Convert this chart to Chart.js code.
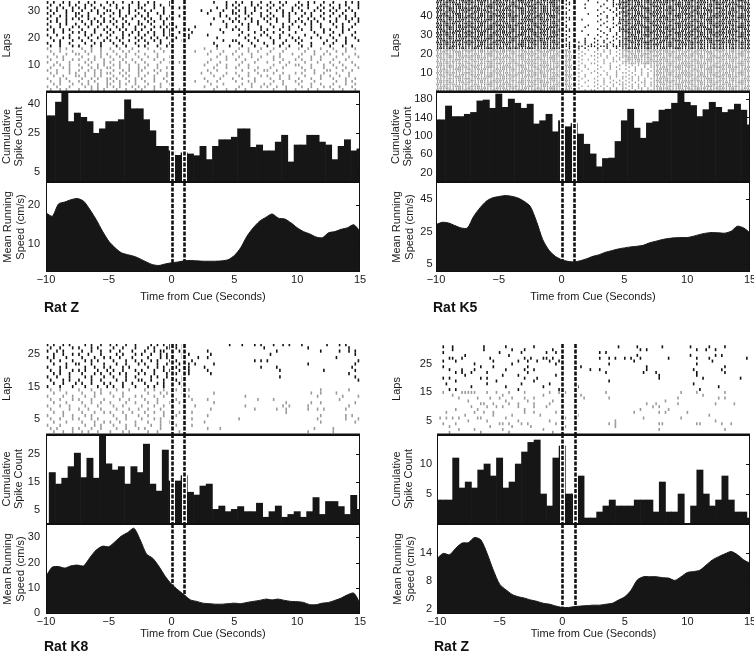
<!DOCTYPE html>
<html>
<head>
<meta charset="utf-8">
<script src="https://cdn.jsdelivr.net/npm/chart.js@4.4.1/dist/chart.umd.min.js"></script>
<style>
  html, body { margin: 0; padding: 0; background: #fff; }
  #fig { position: relative; width: 754px; height: 655px; overflow: hidden; background: #fff; }
  #fig canvas { position: absolute; }
  .rat { position: absolute; font: bold 14px 'Liberation Sans', Arial, sans-serif; line-height: 15px; color: #111; }
</style>
</head>
<body>
<div id="fig"></div>
<script>
// ============================================================
// Spike rasters, cumulative spike counts and running speed
// around the cue, for four rats
// ============================================================

Chart.defaults.font.family = "'Liberation Sans', Arial, sans-serif";
Chart.defaults.font.size = 11;
Chart.defaults.color = '#1a1a1a';

// ---- shared axis data ---------------------------------------------------
const sampleTimes = [-10, -9.5, -9, -8.5, -8, -7.5, -7, -6.5, -6, -5.5, -5, -4.5, -4, -3.5, -3, -2.5, -2, -1.5, -1, -0.5,
    0, 0.5, 1, 1.5, 2, 2.5, 3, 3.5, 4, 4.5, 5, 5.5, 6, 6.5, 7, 7.5, 8, 8.5, 9, 9.5,
    10, 10.5, 11, 11.5, 12, 12.5, 13, 13.5, 14, 14.5, 15];
const timeTicks = [-10, -5, 0, 5, 10, 15];
const cueTimes = [0, 1];

// ---- cumulative spike count per 0.5 s bin (bin centres = sampleTimes) ----
const zTopCounts = [34, 34, 41, 45.6, 31, 35.4, 33.2, 31, 25, 27.3, 31, 31, 32, 42.2, 37.6, 37.6, 32, 26.3, 18.3, 18.3,
    16, 13.7, 15, 14.4, 13.5, 18.3, 11.5, 18.3, 21.7, 21.7, 23, 27.3, 27.3, 17.8, 19, 16, 16, 20.5, 24, 10.3,
    19, 19, 24, 24, 20.5, 19, 11.5, 18.3, 21.7, 16, 17];
const k5Counts = [135, 135, 165, 142, 142, 147, 151, 176, 178, 160, 191, 162, 180, 171, 160, 169, 126, 133, 147, 109,
    133, 120, 127, 104, 82, 61, 33, 51, 52, 88, 133, 158, 117, 95, 128, 131, 156, 158, 171, 196,
    173, 166, 142, 157, 173, 162, 151, 157, 169, 156, 124];
const k8Counts = [0, 18.3, 14.2, 16.3, 20.4, 25.2, 16.5, 23.4, 16.3, 31.3, 21.4, 19.2, 20.4, 14.2, 20.4, 18.3, 28.4, 14.2, 11.7, 26.3,
    15.3, 15.3, 17.2, 11.3, 10.3, 13.5, 14.2, 5.2, 6.4, 4.4, 5.2, 6.2, 4.4, 4.4, 7.4, 2.4, 4.4, 6.4, 2.4, 3.4,
    4.4, 2.4, 4.4, 9.4, 3.4, 8, 8, 6.2, 3.4, 10.2, 5.2];
const zBotCounts = [4, 4, 4, 11, 6, 7, 6, 9, 10, 8, 11, 6, 7, 10, 12, 13.6, 14, 5, 3, 11,
    13, 5, 5, 8, 1, 1, 2, 3, 4, 3, 3, 3, 4, 4, 4, 2, 7, 2, 2, 5,
    0, 3, 9, 5, 3, 4, 8, 4, 2, 2, 1];

// ---- mean running speed (cm/s) at sampleTimes ---------------------------
const zTopSpeed = [18, 17.1, 20.3, 20.8, 21.4, 21.7, 21, 18.8, 16.2, 13.2, 10.6, 8.9, 7.6, 7.1, 6.7, 6, 5.2, 4.5, 4.3, 4.7,
    5, 5.2, 5.5, 5.6, 5.5, 5.4, 5.4, 5.4, 5.5, 5.8, 6.9, 8.9, 11.9, 14.1, 15.8, 16.8, 17.7, 16.6, 16.4, 15.4,
    14.1, 13.1, 12.5, 11.7, 11.5, 12.8, 13.1, 13.7, 14.1, 14.9, 13.2];
const k5Speed = [29.3, 30.7, 30.3, 28.7, 27.2, 27.2, 34.4, 39.6, 43.7, 45.8, 46.6, 47.2, 46.8, 45.8, 43.7, 40.6, 31.3, 20, 13.4, 9.7,
    7.6, 6.6, 6.2, 7, 8.2, 9.7, 10.7, 12.2, 13.2, 14.2, 14.9, 15.5, 15.9, 16.5, 18, 19, 20, 20.7, 21.1, 21.3,
    21.3, 22.1, 23.2, 24, 24.4, 24.2, 24, 25.2, 28.3, 27.2, 24.2];
const k8Speed = [14.5, 18.2, 18.4, 17.8, 18.7, 19, 18.7, 22, 25, 26.5, 26.3, 28.3, 30.5, 31.9, 33.6, 29, 23.4, 21.7, 18.4, 14.5,
    11.4, 9.2, 7.2, 5.2, 4.6, 3.9, 3.7, 3.5, 3.5, 3.7, 3.9, 3.7, 4.2, 4.6, 5, 5.5, 5.2, 5.5, 5, 4.6,
    4.5, 4.2, 3.3, 3.3, 3.9, 4.2, 5, 5.9, 7.2, 7.9, 3.9];
const zBotSpeed = [12.8, 13.9, 13.6, 15, 16.1, 16.2, 17.3, 16.8, 13.9, 10.3, 7.3, 6.1, 5.1, 4.6, 4.3, 3.9, 3.6, 3.2, 3, 2.6,
    2.3, 2.3, 2.5, 2.6, 2.7, 2.8, 2.8, 3, 3.2, 3.9, 4.6, 6, 8.2, 8.9, 8.9, 8.9, 8.7, 8.6, 8.1, 8.9,
    9.8, 10, 10.3, 11.4, 12.5, 13.2, 13.8, 14.3, 13.6, 12.5, 11.8];

// ---- spike rasters ------------------------------------------------------
// one row per lap, highest lap first; each character is a 0.25 s bin
// from -10 s to 15 s ('.' none, '|' one spike, digit = number of spikes)
const zTopRaster = [
    "|.|..|.|.. |..|.|...| .|..|..|.| ..|.|....| .......... ...|...|.. |.|..|..|. .|..|.|... |..|.|..|. .|...|.|.|",
    ".|..|..|.| ..|.|..|.. |.|...|..| .|..|.|..| |......... .......|.| .|...|.|.. |.|..|...| .|.|...|.. |..|.|...|",
    "|..|.|..|. |.|..|..|. ..|.|.|..| |...|..|.. ..|....... ....|..|.. |..|..|.|. .|..|...|. |..|..|.|. .|.|..|..|",
    ".|.|..|.|. .|..|.|..| |..|..|.|. .|.|...|.. .........| ..|...|..| .|.|..|... |..|.|..|. .|...|.|.. |.|..|.|..",
    "|.|...|..| |..|..|.|. .|.|..|..| ..|..|.|.. .......... .|...|...| |..|.|..|. .|...|.|.| ..|.|...|. .|..|...|.",
    ".|..|.|..| .|.|...|.. |..|.|..|. |.|...|..| ..|....... .....|.|.. .|..|...|. |.|..|.|.. .|..|..|.. |..|.|..|.",
    "|..|..|.|. |..|.|..|. .|..|..|.. .|.|..|.|. .......... ...|....|. |..|.|...| .|.|...|.. |..|.|..|. ..|..|.|.|",
    ".|.|..|... .|..|.|.|. |.|..|...| ..|.|..|.. |......... ......|..| .|...|.|.. |..|...|.| .|..|.|... |.|...|..|",
    "|...|.|..| ..|.|..|.. .|..|.|..| |..|...|.| .......... ..|....|.. ..|.|..|.. .|...|..|. ..|.|..|.. .|..|...|.",
    ".|..|...|. |..|..|..| ..|.|...|. .|..|.|.|. .|.....|.. .......|.. |...|...|. ..|..|.|.. |...|..|.. ..|.|..|..",
    "|.|..|.|.. .|...|..|. |..|.|..|. |..|...|.| |....|.... .....|...| .|..|...|. |...|..|.. .|..|...|. |...|.|...",
    "..|..|..|. |.|..|...| .|..|..|.| ..|.|..|.| ..|...|... ......|... ..|...|..| ..|..|...| .....|..|. .|..|...|.",
    "|..|...|.. ..|.|..|.. |...|.|..| .|..|..|.| |....|.... .|........ .|..|...|. |...|..|.. ..|...|... |..|...|..",
    ".|...|.|.. |..|..|..| ..|.|...|. |..|.|..|. .|...|.... ....|..... ...|..|... .|..|...|. |...|..|.. .|...|..|.",
    "..|.|...|. .|..|...|. |..|..|..| .|..|.|... ...|...... ......|..| |...|..|.. ..|...|..| .|.......| ..|..|...|",
    "|...|..|.. ..|..|.|.. .|..|...|. ..|...|..| |......... ...|...... .|...|...| ..|..|.... |...|...|. .|...|....",
    ".|..|...|. |...|..|.. ..|..|...| .|...|..|. .......... ....|...|. ..|...|... |...|..|.. .|..|..... |...|..|..",
    "|...|.|... .|..|..|.. |..|...|.. ..|...|... .......... |...|..... .|..|...|. ..|...|... |..|...|.. .|...|..|.",
    ".|..|...|. ..|.|..|.. .|..|.|..| ....|..|.. .......|.. ..|...|... |...|..|.. .|...|.... ..|..|...| ..|..|....",
    "..|...|..| |..|...|.| ..|..|..|. .|...|.... |......... .|...|...| ..|..|.... |...|...|. .|...|..|. |...|...|.",
    "|..|.|.... .|...|.|.. |..|.|...| ..|..|...| ...|...... ....|..|.. .|...|..|. ..|.|..... |...|..|.. ..|...|..|",
    ".|...|..|. |..|.|..|. .|..|..|.. |...|..|.. .......... ..|....|.. |..|...|.. ..|..|...| .|..|..|.. .|...|....",
    "|..|...|.. ..|.|...|. |..|.|..|. .|....|..| ..|....... .|...|.... ..|...|... |...|..|.. ..|...|... |..|...|..",
    "..|.|..|.. |..|..|.|. .|.|..|..| ..|..|.... .......... |...|..|.. .|..|..... ..|...|..| |...|...|. .|..|...|.",
    ".|...|.|.. .|..|.|..| |..|..|..| .|...|..|. ...|...... ...|...|.. |...|..|.. .|...|.... .|..|...|. ..|..|...|",
    "|..|...|.. |..|.|.|.. .|..|.|..| |...|.|... .......... .|..|..... ..|...|..| |..|...... ..|..|...| |...|..|..",
    ".|.|...|.| ..|..|.|.| |..|.|...| ..|..|..|. |........| ..|....|.. |...|..|.. ..|..|...| .|...|..|. ..|...|...",
    "..|..|...| |.|..|.|.. .|..|.|..| .|..|...|. .......... ...|..|... .|..|...|. |...|..|.. ..|....|.. |..|..|...",
    "|...|.|... .|..|.|..| |.|..|..|. |...|..|.. ...|...... |....|...| ..|...|... .|..|..|.. |...|..|.. .|...|..|.",
    ".|..|..|.. |..|.|...| .|.|..|.|. .|..|...|. .......|.. .|..|..... |...|.|... ..|..|...| .|...|.... ..|..|.|..",
    "..|.|...|. .|.|..|..| |..|.|..|. ..|...|..| |......... ..|...|... ..|..|...| .|...|.... |...|..|.. .|...|..|.",
    "|..|...|.. ..|.|.|..| .|.|...|.| .|..|.|... .......... |...|..... .|...|..|. |..|..|... .|..|...|. |..|...|..",
    ".|..|.|... |...|.|.|. ..|..|..|. |...|...|. ..|....... ...|...|.. |..|...... ..|...|..| ...|..|... .|..|...|."
];
const k5Raster = [
    "1211211121 2112121112 1121112211 2111211212 11.1....1. ....1.1.11 1212111211 2112121112 1211211121 1121112211",
    "2112121112 1211211121 2111211212 1121112211 1.1.1..... .1....1.12 2111211212 1212111211 2112121112 1211211121",
    "1121112211 2111211212 1211211121 1212111211 .11....1.. ...1..1121 1211211121 1121112211 2111211212 2112121112",
    "1212111211 1121112211 2112121112 2111211212 1..1...... ..1...1.11 2112121112 2111211212 1212111211 1121112211",
    "2111211212 1212111211 1121112211 1211211121 11.....1.. ....1..112 1121112211 1211211121 2112121112 2111211212",
    "1211211121 2112121112 1212111211 2111211212 1.1....... .1...1.1.1 1212111211 2112121112 1121112211 1211211121",
    "2112121112 1121112211 2111211212 1211211121 .1.1...... ...1..1.12 2111211212 1211211121 1212111211 2112121112",
    "1121112211 1211211121 1212111211 2112121112 11......1. ..1....111 1211211121 2111211212 2112121112 1212111211",
    "1212111211 2111211212 2112121112 1121112211 1..1...... .1..1..1.1 2112121112 1121112211 1211211121 2111211212",
    "2111211212 1212111211 1211211121 1212111211 .11....... ....1.1.11 1121112211 1212111211 2111211212 1121112211",
    "1211211121 1121112211 2111211212 2112121112 1.1...1... ..1...1.12 1212111211 2112121112 1121112211 1211211121",
    "1121112211 2112121112 1211211121 2111211212 11........ .1..1...11 2111211212 1211211121 1212111211 2112121112",
    "2112121112 1211211121 1121112211 1212111211 1..1...... ...1..1.21 1211211121 1121112211 2111211212 1212111211",
    "1212111211 2111211212 2112121112 1211211121 .1.1....1. ..1....1.1 2112121112 2111211212 1211211121 2111211212",
    "2111211212 1212111211 1212111211 1121112211 11.....1.. ....1.1.11 1121112211 1212111211 2112121112 1121112211",
    "1211211121 1121112211 2111211212 2112121112 1.1....... .1...1..12 1212111211 2112121112 1121112211 1211211121",
    "1121112211 2112121112 1211211121 2111211212 .11...1... ..1..1..11 2111211212 1211211121 1212111211 2112121112",
    "2112121112 1211211121 1212111211 1212111211 1..1...... ...1...1.1 1211211121 1121112211 2111211212 1212111211",
    "1212111211 2111211212 1121112211 1211211121 11......1. .1..1..1.1 1121112211 2111211212 1211211121 2111211212",
    "2111211212 1212111211 2112121112 1121112211 1.1.1..... ..1...1.11 1212111211 1212111211 2112121112 1121112211",
    "1211211121 1121112211 1211211121 2112121112 .1.1...1.. 1...1..1.1 2112121112 2112121112 1121112211 1211211121",
    "1121112211 2112121112 2111211212 1212111211 11..1..1.. .1.1..1.11 1211211121 1121112211 2111211212 2112121112",
    "2112121112 1211211121 1212111211 2111211212 1.1..1.1.. 1..1.1..11 1121112211 1211211121 1212111211 1212111211",
    "1212111211 2111211212 1121112211 1211211121 .11.1..1.1 .1..1.1.11 2111211212 2111211212 1211211121 2111211212",
    "1111121111 1112111111 1111111211 1111111111 1111.11.11 1.111.1111 1111111111 1111211111 1111111111 1111111111",
    "1211211121 1121112211 2112121112 2111211212 1.1..1.1.. .1..1..1.1 1212111211 1121112211 1211211121 2111211212",
    "2112121112 1211211121 1212111211 1121112211 1211.1..1. .1.1.1..11 2111211212 1212111211 2112121112 1211211121",
    "1121112211 2111211212 1211211121 2112121112 1121..1... 1..1.1.1.1 1211211121 2112121112 1121112211 2111211212",
    "1212111211 1121112211 2111211212 1211211121 2111.1.1.. .11..1..11 1121112211 1211211121 1212111211 1121112211",
    "2111211212 1212111211 1121112211 2111211212 1212..1..1 1.1.1..1.1 2112121112 2111211212 1211211121 1212111211",
    "1211211121 2112121112 1212111211 1121112211 2112.1.... .1..1.1.11 1212111211 1121112211 2111211212 2112121112",
    "1121112211 1211211121 2111211212 1212111211 1121..1.1. 1..1..1.1. 1211211121 1212111211 1121112211 1211211121",
    "2112121112 1121112211 1211211121 2111211212 1211.1.... .1.1..11.1 2111211212 2112121112 1212111211 2111211212",
    "1212111211 2111211212 2112121112 1211211121 2111..1..1 1..1.1...1 1121112211 1211211121 2112121112 1121112211",
    "1211211121 1212111211 1121112211 2112121112 1212.1.1.. .1...1..1. 1.1.1.1.11 2111211212 1211211121 1212111211",
    "2111211212 1121112211 1212111211 1211211121 1121...1.. ..1..1.1.. .1.1..1.11 1121112211 2111211212 2112121112",
    "1121112211 2112121112 1211211121 1121112211 2112.1..1. .1...1..1. 1..1.1.1.1 1212111211 1121112211 1211211121",
    "1212111211 1211211121 2111211212 2112121112 1211..1... 1..1...1.. .1.1.1..11 2112121112 1212111211 2111211212",
    "2112121112 2111211212 1121112211 1212111211 2111.1...1 .1..1..1.1 1.1..1.1.1 1211211121 2111211212 1121112211",
    "1211211121 1212111211 2112121112 1211211121 1212...1.. ..1.1..1.. .1.1.1.1.1 2111211212 1211211121 1212111211",
    "1121112211 1121112211 1211211121 2111211212 1121.1.1.. .1...1.1.1 1.1.1..1.1 1121112211 2112121112 2112121112",
    "2111211212 2112121112 1212111211 1121112211 2112..1... 1..1.1...1 .11.1.1.11 1212111211 1121112211 1211211121",
    "1212111211 1211211121 2111211212 1212111211 1211.1..1. .1.1..1.1. 1.1.1.1..1 2112121112 1212111211 2111211212",
    "1211211121 2111211212 1121112211 2112121112 2111...1.. 1..1.1.1.1 .1.1.11.11 1211211121 2111211212 1121112211",
    "2112121112 1121112211 1212111211 1211211121 1212.1.... .1.1..1.11 1.1.1.1.11 1121112211 1211211121 1212111211",
    "1121112211 1212111211 2112121112 2111211212 1121..1.1. 1.1.1.1..1 .11.1.1.11 2111211212 1121112211 2112121112",
    "1212111211 2112121112 1211211121 1121112211 2112.1.... .1.1.1.1.1 1.1.11.1.1 1212111211 2112121112 1211211121",
    "2111211212 1211211121 1121112211 1212111211 1211...1.1 1..1.1.1.1 .1.1.1.111 1211211121 1212111211 2111211212"
];
const k8Raster = [
    "|.|..|.|.. ..|.|..|.. |.|..|..|. ...|.|.|.| .|.|...... ........|. ..|...|.|. ..|..|.|.. .|.......| ...|.|....",
    ".|..|...|. |...|.|... .|..|...|. ..|.|...|| .|.|...... .......... .........| .......... ...|...... ......|...",
    "|..|.|.... .|..|..|.. |..|...|.. .|..|.||.. ..|.|..... .|........ .......... ...|...... .......|.. ...|..|.|.",
    "..|..|..|. |..|...|.. ..|.|...|. |..|..|.|. ...|.|.... ..|....... .......... .|........ .......... ........|.",
    "|.|...|... .|...|..|. |..|...|.. ..|...|.|. |..|....|. .|........ .......... .......... .......... ..|.......",
    ".|..|...|. ..|.|.|... .|...|..|. |..|.|...| .|....|... .......... ......|.|. |......... .......... .........|",
    "..|...|..| |...|...|. ..|..|...| .|...|..|. ..|..|.|.. ...|...... .......... .......... ...|...... ........|.",
    "|...|.|... ..|..|..|. |...|.|... ..|..|.|.. .|...|.... |......... ........|. ...|...... .......... .......|..",
    ".|..|...|. |.|...|..| .|..|...|. |...|..|.| ..|..|.... .|........ .......... ....|..... ........|. ........|.",
    "..|.|..|.. .|...|.|.. |..|.|...| .|..|...|. .|...|.... ..|....... .......... .......... .......... ......|...",
    "|..|...|.. ..|.|...|. .|...|..|. ...|.|..|. |..|...... .......... .......... ....|..... .......... ........|.",
    ".|...|.|.. |...|..|.. ..|..|...| |..|...|.. .|.|...... .......... .......... .......... .......... .........|",
    "..|..|...| .|..|...|. |...|..|.. .|...|.|.. ..|....... .......... .......... .......... .......... ..........",
    "|...|...|. ..|...|..| .|..|...|. ..|.|..|.. |..|...... .......... .......... .......... .......... ..........",
    ".|..|..... |...|..|.. ..|...|... .|..|..|.. .|...|.... .......... .......... .......... .......|.. ......|...",
    "..|...|... .|...|.|.. |...|..... ..|...|.|. ...|...... ...|...... .......... .......... ....|..|.. ..|.......",
    "|....|..|. ..|..|.... .|..|...|. |...|..|.. |....|.... .......... ...|...... .......... ......|... ....|....|",
    ".|..|...|. |...|...|. ...|..|... .|...|.... .|....|... .|........ .......|.. ..|....... .......... ...|......",
    "..|...|... .|..|..|.. |....|..|. ..|..|...| ..|....... ...|...... .......... ......|... ....|..|.. ........|.",
    "|...|..|.. ..|...|... .|..|..... |...|..|.. ....|..|.. .......... ...|...... .....|.|.. ...|...... ......|...",
    ".|.....|.. |..|...|.. ..|...|..| ..|...|... |......... ..|....... ......|... ...|..|... ...|..|.|. .....|....",
    "..|..|.... .|...|..|. |...|..|.. .|..|..|.. ..|...|... .......... .......... ......|... .......... ..........",
    "|....|..|. ..|.|..... .|...|...| ..|....|.. .|........ .|........ .......... .......... .......|.. .....|.|..",
    ".|..|...|. |...|.|... ..|..|.... |...|.|... ...|..|... .......... .|........ .......... ......|... .....|...|",
    "..|...|... .|...|..|. |..|....|. ..|...|..| .......... |......... .......... .......... .......|.. ........|.",
    "|...|..... ..|..|.|.. .|...|..|. ...|..|... .|....|... .......... .......... .......... .......... ..........",
    ".|.|....|. |...|..|.. ..|..|...| .|....|... .......... .|...|.... .......... .......... .....|.... .|........",
    "..|..|..|. .|.|..|... |...|.|... ..|..|.... ..|....... .......... .......... .......... ...|...... .|........"
];
// sparse raster given directly as spike times (s), highest lap first
const zBotRaster = [
    [-9.5, -8.75, -6.25, -4.5, -2.25, 0, 1, 4.5, 6, 8, 10.25, 11.75, 13],
    [-8.75, -6.25, -4, -3, -0.75, 6.25, 6.75, 10.75, 11.5, 12.25],
    [-9.5, -5, -3.25, -1.25, -0.5, 3, 3.5],
    [-7.75, -4.25, 6, 10.25, 12.25, 12.75],
    [-9, -8.75, -8, -5.75, -3, -2.5, -1.5, -1.25, -0.75, 3, 3.75, 4.25, 5, 5.5, 6.25, 8.5, 10.75, 11.75, 14.75],
    [-9.5, -8.5, -5.5, -3.5, -2.75, -2, -1, -0.25, 5.75, 12],
    [-7, -4, -0.5, 3.75, 10.75],
    [-9.5, -6.5, -5.5, -2.75, 0, 1.5, 6.75, 13],
    [-9, -8, -7, -4.5, -3, -2.25, 0, 2.25, 3, 6.75, 10.5, 12.75],
    [-8.5, -8, -7.25, -6, -2.75, 0, 1, 3.5, 6.5, 7.5, 10.75, 13],
    [-7.75, -4.75, -3.5, -0.5, 7.75, 10.75],
    [-9.5, -9, -6.5, -6, -3, -2, 7.75, 11.25, 14.25],
    [-8.5, -5.25, -2.25, 0, 3.75],
    [-9.25, -6, -3.25, -1, 10.5],
    [-7.25, -4.5, -1.5, 1.25, 12.5],
    [-9, -8.5, -3.5, -0.25, 11],
    [-9.5, -8, -7.75, -7.5, -7.25, -7, -6, -5.25, -4.25, -3, -1, -0.25, 0.25, 3.5, 9.5, 10.75, 13],
    [-8.75, -4.75, -1.5, 1.5, 11.25],
    [-8.25, -6.75, -5.75, -5, -4, -3, -2.25, 1.75, 3.75, 9.25, 12.5, 13],
    [-7.5, -4.5, -2.75, -0.75, 8.25],
    [-6.5, -6.25, -5.5, -4.25, -3.5, -2.25, -1, 6.75, 7.5, 9.25, 12.25, 13.75],
    [-7.25, -6, -5.25, -4.75, -3.5, -2.25, -1.25, 7.25, 7.75],
    [-8.5, -6.75, -3, 0, 6.25, 8.5],
    [-9.25, -7, -6.25, -5.5, -3, -2.25, -0.5, 0, 5.75, 7.75, 8.25, 10],
    [-7.75, -5.5, -4, -1.75, 1.25, 11.75],
    [-9.75, -9.25, -8.75, -8.25, -6.75, -6.5, -4.5, 0.25, 6.5, 9.5],
    [-7.5, -6, -3.5, -1, 4.25, 12.25],
    [-9.5, -8.5, -5, -4.75, -4.25, -3.25, -2.75, -0.5, 3.75, 4.25, 7.75, 8, 10.75, 11, 12.75, 13.5],
    [-9, -5.75, -4, -2.5, 0.25, 4.25],
    [-8.25, -7, -4.75, -1.5, 7.75, 13],
    [-9, -6.5, -4.25, -0.75]
];

// ---- axis ranges and ticks per rat --------------------------------------
const zTopLapTicks = [10, 20, 30], zTopCountTicks = [5, 25, 40], zTopSpeedTicks = [10, 20];
const k5LapTicks = [10, 20, 30, 40], k5CountTicks = [20, 60, 100, 140, 180], k5SpeedTicks = [5, 25, 45];
const k8LapTicks = [5, 15, 25], k8CountTicks = [5, 15, 25], k8SpeedTicks = [0, 10, 20, 30];
const zBotLapTicks = [5, 15, 25], zBotCountTicks = [5, 10], zBotSpeedTicks = [2, 8, 14];

// ---- page layout (pixels) -----------------------------------------------
const PANELS = [
    { label: 'Rat Z', left: 46, right: 360, rows: [0, 91, 182, 272], axisW: 46, tickPad: 6, xAxisH: 32, labelX: 44, labelY: 300,
      raster: zTopRaster, grayLaps: 16, lapRange: [0.45, 33.9], lapTicks: zTopLapTicks, tickR: 1.4, tickW: 1.6,
      counts: zTopCounts, countRange: [0, 46.7], countTicks: zTopCountTicks,
      speed: zTopSpeed, speedRange: [2.6, 26], speedTicks: zTopSpeedTicks },
    { label: 'Rat K5', left: 436, right: 750, rows: [0, 91, 182, 272], axisW: 47, tickPad: 3.5, xAxisH: 32, labelX: 433, labelY: 300,
      raster: k5Raster, grayLaps: 22, lapRange: [0.5, 48.3], lapTicks: k5LapTicks, tickR: 0.85, tickW: 1.3,
      counts: k5Counts, countRange: [0, 197.5], countTicks: k5CountTicks,
      speed: k5Speed, speedRange: [0, 55.6], speedTicks: k5SpeedTicks },
    { label: 'Rat K8', left: 46, right: 360, rows: [344, 434, 524, 614], axisW: 46, tickPad: 6, xAxisH: 27, labelX: 44, labelY: 639,
      raster: k8Raster, grayLaps: 14, lapRange: [0.3, 28.2], lapTicks: k8LapTicks, tickR: 1.6, tickW: 1.6,
      counts: k8Counts, countRange: [0, 32], countTicks: k8CountTicks,
      speed: k8Speed, speedRange: [-0.4, 35.3], speedTicks: k8SpeedTicks },
    { label: 'Rat Z', left: 437, right: 750, rows: [344, 434, 524, 614], axisW: 47, tickPad: 5, xAxisH: 27, labelX: 434, labelY: 639,
      raster: zBotRaster, grayLaps: 15, lapRange: [0.4, 32], lapTicks: zBotLapTicks, tickR: 1.5, tickW: 1.6,
      counts: zBotCounts, countRange: [0, 15], countTicks: zBotCountTicks,
      speed: zBotSpeed, speedRange: [0.9, 20.2], speedTicks: zBotSpeedTicks },
];

const PAD_T = 16, PAD_B = 16, PAD_R = 12;
const INK = '#161616';
const GRAY = '#9a9a9a';

// ---- helpers ------------------------------------------------------------
function rasterPoints(rows, grayLaps) {
    const gray = [], black = [];
    rows.forEach((row, r) => {
        const lap = rows.length - r;
        const dest = lap <= grayLaps ? gray : black;
        if (Array.isArray(row)) {
            row.forEach(t => dest.push({ x: t, y: lap }));
            return;
        }
        row.replace(/ /g, '').split('').forEach((ch, i) => {
            const n = ch === '.' ? 0 : ch === '|' ? 1 : +ch;
            for (let j = 0; j < n; j++) dest.push({ x: -10 + 0.25 * (i + (j + 0.5) / n), y: lap });
        });
    });
    return { gray, black };
}

const cuePlugin = {
    id: 'cueLines',
    beforeDatasetsDraw(chart, args, opts) { if (opts.under) drawCue(chart); },
    afterDatasetsDraw(chart, args, opts) { if (!opts.under) drawCue(chart); }
};

function drawCue(chart) {
    const { ctx, chartArea: a, scales: { x } } = chart;
    ctx.save();
    cueTimes.forEach(t => {
        const px = Math.round(x.getPixelForValue(t)) + 0.5;
        ctx.beginPath();
        ctx.moveTo(px, a.top);
        ctx.lineTo(px, a.bottom);
        ctx.setLineDash([]);
        ctx.strokeStyle = '#fff';
        ctx.lineWidth = 5;
        ctx.stroke();
        ctx.setLineDash([4, 1.5]);
        ctx.strokeStyle = '#111';
        ctx.lineWidth = 2.6;
        ctx.stroke();
    });
    ctx.restore();
}

const framePlugin = {
    id: 'frame',
    afterDatasetsDraw(chart, args, opts) {
        if (!opts.show) return;
        const { ctx, chartArea: a, scales: { y } } = chart;
        ctx.save();
        ctx.strokeStyle = '#111';
        ctx.lineWidth = 1;
        ctx.strokeRect(a.left + 0.5, a.top + 0.5, a.width - 1, a.height - 1);
        ctx.lineWidth = opts.topWidth;
        ctx.beginPath();
        ctx.moveTo(a.left, a.top + opts.topWidth / 2 - 0.5);
        ctx.lineTo(a.right, a.top + opts.topWidth / 2 - 0.5);
        ctx.stroke();
        // matlab style inward ticks on the right edge
        ctx.lineWidth = 1;
        y.ticks.forEach(t => {
            const py = Math.round(y.getPixelForValue(t.value)) + 0.5;
            ctx.beginPath();
            ctx.moveTo(a.right - 4, py);
            ctx.lineTo(a.right, py);
            ctx.stroke();
        });
        ctx.restore();
    }
};

function yAxis(p, range, ticks, title, lineHeight) {
    return {
        min: range[0], max: range[1],
        afterFit: s => { s.width = p.axisW; },
        afterBuildTicks: s => { s.ticks = ticks.map(v => ({ value: v })); },
        grid: { display: false, drawTicks: false },
        border: { display: false },
        ticks: { padding: p.tickPad, color: '#1a1a1a', font: { size: 11 } },
        title: { display: true, text: title, color: '#1a1a1a', font: { size: 11, lineHeight: lineHeight || 1.05 }, padding: { top: 1.5, bottom: 0 } }
    };
}

function xHidden() {
    return { type: 'linear', min: -10, max: 15, offset: false, display: false };
}

function xTime(p) {
    return {
        type: 'linear', min: -10, max: 15, offset: false,
        afterFit: s => { s.height = p.xAxisH; },
        afterBuildTicks: s => { s.ticks = timeTicks.map(v => ({ value: v })); },
        grid: { display: false, drawTicks: false },
        border: { display: false },
        ticks: { padding: 1, maxRotation: 0, autoSkip: false, color: '#1a1a1a', font: { size: 11 },
                 callback: v => v < 0 ? '\u2212' + (-v) : String(v) },
        title: { display: true, text: 'Time from Cue (Seconds)', color: '#1a1a1a', font: { size: 11 }, padding: { top: 0, bottom: 0 } }
    };
}

function baseOptions(padBottom) {
    return {
        responsive: false,
        animation: false,
        events: [],
        devicePixelRatio: 1,
        layout: { padding: { left: 0, right: PAD_R, top: PAD_T, bottom: padBottom } },
    };
}

const fig = document.getElementById('fig');

function addChart(left, top, width, height, config) {
    const c = document.createElement('canvas');
    c.width = width;
    c.height = height;
    c.style.left = left + 'px';
    c.style.top = top + 'px';
    c.style.width = width + 'px';
    c.style.height = height + 'px';
    fig.appendChild(c);
    return new Chart(c, config);
}

// ---- build the four panels ----------------------------------------------
PANELS.forEach(p => {
    const plotW = p.right - p.left;
    const canvasLeft = p.left - p.axisW;
    const canvasW = p.axisW + plotW + PAD_R;
    const [y0, y1, y2, y3] = p.rows;

    // raster
    const pts = rasterPoints(p.raster, p.grayLaps);
    const tickStyle = (color) => ({
        showLine: false, pointStyle: 'line', pointRotation: 90, pointRadius: p.tickR,
        pointBorderWidth: p.tickW, pointBorderColor: color, pointBackgroundColor: color, clip: 0
    });
    addChart(canvasLeft, y0 - PAD_T, canvasW, PAD_T + (y1 - y0) + PAD_B, {
        type: 'scatter',
        data: { datasets: [
            { data: pts.gray, ...tickStyle(GRAY) },
            { data: pts.black, ...tickStyle('#111') },
        ] },
        options: {
            ...baseOptions(PAD_B),
            plugins: { legend: { display: false }, tooltip: { enabled: false }, cueLines: { under: false }, frame: { show: false } },
            scales: { x: xHidden(), y: yAxis(p, p.lapRange, p.lapTicks, 'Laps') }
        },
        plugins: [cuePlugin, framePlugin]
    });

    // cumulative spike count histogram
    addChart(canvasLeft, y1 - PAD_T, canvasW, PAD_T + (y2 - y1) + PAD_B, {
        type: 'bar',
        data: { datasets: [{
            data: sampleTimes.map((t, i) => ({ x: t, y: p.counts[i] })),
            backgroundColor: INK, borderWidth: 0,
            barPercentage: 1, categoryPercentage: 1, grouped: false, clip: 0
        }] },
        options: {
            ...baseOptions(PAD_B),
            plugins: { legend: { display: false }, tooltip: { enabled: false }, cueLines: { under: false }, frame: { show: true, topWidth: 2.6 } },
            scales: { x: xHidden(), y: yAxis(p, p.countRange, p.countTicks, ['Cumulative', 'Spike Count']) }
        },
        plugins: [cuePlugin, framePlugin]
    });

    // mean running speed
    addChart(canvasLeft, y2 - PAD_T, canvasW, PAD_T + (y3 - y2) + p.xAxisH, {
        type: 'line',
        data: { datasets: [{
            data: sampleTimes.map((t, i) => ({ x: t, y: p.speed[i] })),
            fill: 'start', backgroundColor: INK, borderColor: INK, borderWidth: 1,
            pointRadius: 0, tension: 0.25, clip: 0
        }] },
        options: {
            ...baseOptions(0),
            plugins: { legend: { display: false }, tooltip: { enabled: false }, cueLines: { under: true }, frame: { show: true, topWidth: 1.5 } },
            scales: { x: xTime(p), y: yAxis(p, p.speedRange, p.speedTicks, ['Mean Running', 'Speed (cm/s)'], 1.15) }
        },
        plugins: [cuePlugin, framePlugin]
    });

    const lab = document.createElement('div');
    lab.className = 'rat';
    lab.textContent = p.label;
    lab.style.left = p.labelX + 'px';
    lab.style.top = p.labelY + 'px';
    fig.appendChild(lab);
});
</script>
</body>
</html>
